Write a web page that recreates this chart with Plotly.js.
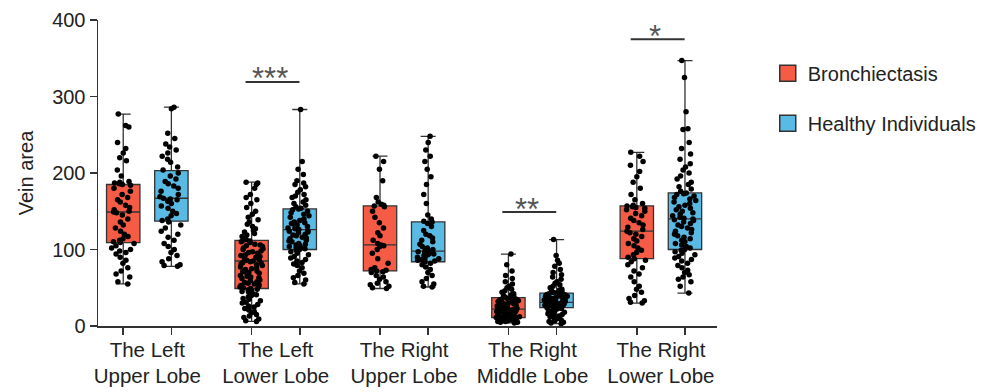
<!DOCTYPE html>
<html>
<head>
<meta charset="utf-8">
<script src="https://cdn.plot.ly/plotly-3.0.1.min.js"></script>
<style>html,body{margin:0;padding:0;background:#fff;}#chart{width:995px;height:392px;}</style>
</head>
<body>
<div id="chart"></div>
<script>
// ---------- data ----------
var groups = ["The Left<br>Upper Lobe", "The Left<br>Lower Lobe", "The Right<br>Upper Lobe", "The Right<br>Middle Lobe", "The Right<br>Lower Lobe"];
var seriesNames = ["Bronchiectasis", "Healthy Individuals"];
var seriesColors = ["#F55B45", "#59BAE4"];

// box statistics [group] per series
var bronQ1 = [109, 49, 72, 11, 88];
var bronMedian = [149, 85, 106, 22, 124];
var bronQ3 = [185, 112, 157, 37, 157];
var bronMin = [55, 6, 49, 4, 30];
var bronMax = [277, 188, 222, 94, 227];

var healQ1 = [137, 100, 84, 24, 100];
var healMedian = [167, 126, 98, 31, 140];
var healQ3 = [203, 153, 136, 43, 174];
var healMin = [78, 55, 51, 3, 43];
var healMax = [286, 283, 248, 113, 347];

// individual observations
var bronLUL = [277,262,260,240,232,226,220,216,204,196,189,188,187,186,185,184,180,176,172,168,165,162,158,155,152,150,149,148,145,140,136,132,128,124,120,117,114,112,110,109,108,105,102,100,98,96,94,90,86,82,76,72,68,64,58,55];
var healLUL = [286,284,252,245,238,234,230,226,222,218,214,208,204,200,196,192,189,186,183,180,176,172,169,167,166,165,163,160,157,154,150,147,144,140,138,136,132,128,124,120,116,112,108,104,100,96,92,88,84,80,79,78];
var bronLLL = [188,187,185,180,172,168,165,160,155,150,146,142,139,136,133,130,127,125,123,121,119,117,115,113,112,111,110,109,107,106,105,104,102,101,100,98,97,96,95,93,92,91,90,88,87,86,85,84,83,82,81,80,79,77,76,75,74,72,71,70,69,68,66,65,64,63,62,60,59,58,57,56,55,54,53,52,51,50,49,48,47,46,45,44,42,41,40,38,36,35,33,31,30,28,26,25,23,21,19,17,15,13,11,9,7,6];
var healLLL = [283,215,205,198,190,187,185,182,178,175,172,170,168,165,162,160,158,156,154,153,152,150,148,146,144,142,140,138,136,135,134,132,130,129,128,127,126,125,124,123,122,120,119,118,116,115,114,112,111,110,108,107,106,105,104,103,102,101,100,99,97,95,93,91,89,87,85,83,81,79,76,72,69,66,63,60,57,55];
var bronRUL = [222,215,205,190,168,162,159,158,157,156,150,142,135,128,122,118,112,108,106,105,104,100,95,88,82,76,74,73,72,71,70,66,64,61,58,56,54,52,50,49];
var healRUL = [248,240,230,222,215,205,195,185,172,160,145,140,137,136,134,130,125,120,118,115,112,110,107,104,102,100,99,98,97,96,95,94,93,92,90,89,88,87,86,85,84,82,80,77,74,70,66,62,58,55,52,51];
var bronRML = [94,80,72,66,62,58,55,52,50,48,46,44,42,41,40,39,38,37,36,35,35,34,33,33,32,31,30,30,29,28,28,27,26,26,25,25,24,24,23,23,22,22,21,21,20,20,19,19,18,18,17,17,16,16,15,15,14,14,13,13,12,12,11,11,10,10,9,9,8,8,7,7,6,6,5,5,4];
var healRML = [113,92,86,82,78,74,70,67,64,61,58,56,54,52,50,48,47,46,45,44,43,43,42,41,41,40,39,39,38,38,37,37,36,36,35,35,34,34,33,33,32,32,31,31,30,30,29,29,28,28,27,27,26,26,25,25,24,24,23,23,22,21,20,19,18,17,16,15,14,13,12,11,10,9,8,7,6,5,4,3];
var bronRLL = [227,222,215,210,202,195,188,180,172,165,160,158,157,156,155,154,152,150,147,144,141,138,135,132,129,126,124,122,120,117,114,111,108,105,102,99,96,93,90,88,86,84,80,76,72,68,64,58,52,48,44,40,36,33,31,30];
var healRLL = [347,325,280,258,257,240,232,225,218,212,208,204,200,196,192,188,185,182,179,176,174,173,172,170,168,166,164,162,160,158,156,154,152,150,148,146,144,142,141,140,139,138,136,134,132,130,128,126,124,122,120,118,116,114,112,110,108,106,104,102,100,99,97,95,93,91,89,87,85,82,79,76,73,70,67,64,61,58,52,43];

var bronPoints = [bronLUL, bronLLL, bronRUL, bronRML, bronRLL];
var healPoints = [healLUL, healLLL, healRUL, healRML, healRLL];

// significance annotations
var sigGroups = [1, 3, 4];
var sigLabels = ["***", "**", "*"];
var sigY = [319, 149, 375];

// ---------- layout helpers ----------
var OFF = 0.1875, BOXW = 0.26;
var FONT = "Liberation Sans, Arial, sans-serif";
var gIdx = groups.map(function (_, i) { return i; });
var bronX = gIdx.map(function (i) { return i - OFF; });
var healX = gIdx.map(function (i) { return i + OFF; });
var xRange = [-0.384, 4.437];

var traces = [];
function statBox(x, q1, med, q3, lo, hi, color, name) {
  return {
    type: "box", x: x, q1: q1, median: med, q3: q3, lowerfence: lo, upperfence: hi,
    width: BOXW, whiskerwidth: 0.45, boxpoints: false,
    fillcolor: color, line: { color: "#333", width: 1.3 },
    name: name, showlegend: false, hoverinfo: "skip"
  };
}
traces.push(statBox(bronX, bronQ1, bronMedian, bronQ3, bronMin, bronMax, seriesColors[0], seriesNames[0]));
traces.push(statBox(healX, healQ1, healMedian, healQ3, healMin, healMax, seriesColors[1], seriesNames[1]));

function pointBox(vals, x0) {
  return {
    type: "box", y: vals, x0: x0, width: BOXW, boxpoints: "all", jitter: 0.75, pointpos: 0,
    fillcolor: "rgba(0,0,0,0)", line: { color: "rgba(0,0,0,0)", width: 0 },
    marker: { color: "#000", size: 5.5 }, showlegend: false, hoverinfo: "skip"
  };
}
gIdx.forEach(function (i) {
  traces.push(pointBox(bronPoints[i], bronX[i]));
  traces.push(pointBox(healPoints[i], healX[i]));
});

// legend entries
seriesNames.forEach(function (n, k) {
  traces.push({
    type: "scatter", mode: "markers", x: [null], y: [null], xaxis: "x2",
    name: n, legendgroup: "g" + k,
    marker: { symbol: "square", size: 16, color: seriesColors[k], line: { color: "#333", width: 1.5 } }
  });
});

var shapes = [], annotations = [];
sigGroups.forEach(function (g, k) {
  shapes.push({ type: "line", xref: "x", yref: "y", x0: g - 0.235, x1: g + 0.185, y0: sigY[k], y1: sigY[k],
    line: { color: "#333", width: 2 } });
  annotations.push({ xref: "x", yref: "y", x: g - 0.045, y: sigY[k], text: sigLabels[k], showarrow: false,
    yanchor: "middle", yshift: 3, font: { family: FONT, size: 31, color: "#555" } });
});

var layout = {
  width: 995, height: 392,
  margin: { l: 98, r: 278, t: 20, b: 66 },
  paper_bgcolor: "#fff", plot_bgcolor: "#fff",
  font: { family: FONT, color: "#222" },
  showlegend: true,
  legend: { x: 1.082, y: 0.89, xanchor: "left", yanchor: "top", font: { family: FONT, size: 20, color: "#222" },
    itemsizing: "trace", traceorder: "grouped", tracegroupgap: 21, bgcolor: "rgba(0,0,0,0)" },
  xaxis: {
    range: xRange, tickvals: bronX.concat(healX), ticktext: bronX.concat(healX).map(function () { return ""; }),
    ticks: "outside", ticklen: 7, tickwidth: 1.5, tickcolor: "#333",
    showline: true, linecolor: "#333", linewidth: 1.5, showgrid: false, zeroline: false, fixedrange: true
  },
  xaxis2: {
    overlaying: "x", anchor: "y", side: "bottom", range: xRange,
    tickvals: gIdx, ticktext: groups, ticks: "outside", ticklen: 5, tickcolor: "rgba(0,0,0,0)",
    showline: false, showgrid: false, zeroline: false, tickfont: { family: FONT, size: 20.5, color: "#222" }
  },
  yaxis: {
    range: [0, 400], tickvals: [0, 100, 200, 300, 400],
    ticks: "outside", ticklen: 7, tickwidth: 1.5, tickcolor: "#333",
    showline: true, linecolor: "#333", linewidth: 1.5, showgrid: false, zeroline: false,
    tickfont: { family: FONT, size: 20, color: "#222" },
    title: { text: "Vein area", font: { family: FONT, size: 20, color: "#222" }, standoff: 13 }
  },
  shapes: shapes,
  annotations: annotations
};

Plotly.newPlot("chart", traces, layout, { displayModeBar: false, staticPlot: true });
</script>
</body>
</html>
